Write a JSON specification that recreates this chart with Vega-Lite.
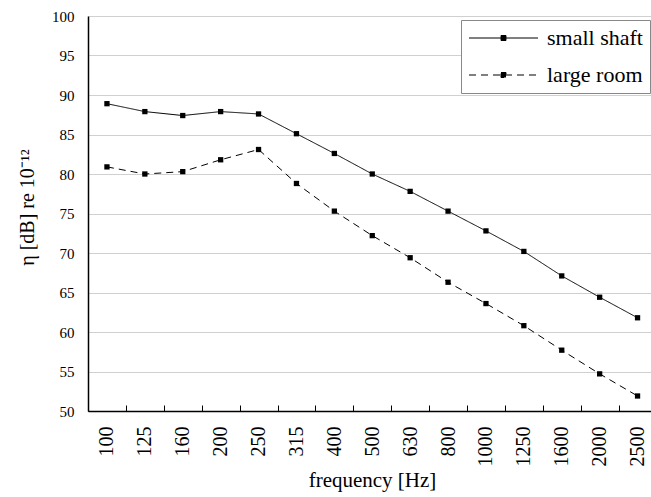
{
  "$schema": "https://vega.github.io/schema/vega-lite/v6.json",
  "autosize": "none",
  "width": 563,
  "height": 395,
  "padding": {"left": 88, "top": 16, "right": 0, "bottom": 86},
  "background": "white",
  "config": {
    "view": {"stroke": null},
    "font": "Liberation Serif",
    "style": {"guide-label": {"font": "Liberation Serif"}, "guide-title": {"font": "Liberation Serif"}},
    "axis": {"labelFont": "Liberation Serif", "titleFont": "Liberation Serif", "labelColor": "#000", "titleColor": "#000", "titleFontWeight": "normal"},
    "legend": {"labelFont": "Liberation Serif", "labelColor": "#000"}
  },
  "data": {
    "values": [
      {"f": "100", "series": "small shaft", "v": 88.9},
      {"f": "125", "series": "small shaft", "v": 87.9},
      {"f": "160", "series": "small shaft", "v": 87.4},
      {"f": "200", "series": "small shaft", "v": 87.9},
      {"f": "250", "series": "small shaft", "v": 87.6},
      {"f": "315", "series": "small shaft", "v": 85.1},
      {"f": "400", "series": "small shaft", "v": 82.6},
      {"f": "500", "series": "small shaft", "v": 80.0},
      {"f": "630", "series": "small shaft", "v": 77.8},
      {"f": "800", "series": "small shaft", "v": 75.3},
      {"f": "1000", "series": "small shaft", "v": 72.8},
      {"f": "1250", "series": "small shaft", "v": 70.2},
      {"f": "1600", "series": "small shaft", "v": 67.1},
      {"f": "2000", "series": "small shaft", "v": 64.4},
      {"f": "2500", "series": "small shaft", "v": 61.8},
      {"f": "100", "series": "large room", "v": 80.9},
      {"f": "125", "series": "large room", "v": 80.0},
      {"f": "160", "series": "large room", "v": 80.3},
      {"f": "200", "series": "large room", "v": 81.8},
      {"f": "250", "series": "large room", "v": 83.1},
      {"f": "315", "series": "large room", "v": 78.8},
      {"f": "400", "series": "large room", "v": 75.3},
      {"f": "500", "series": "large room", "v": 72.2},
      {"f": "630", "series": "large room", "v": 69.4},
      {"f": "800", "series": "large room", "v": 66.3},
      {"f": "1000", "series": "large room", "v": 63.6},
      {"f": "1250", "series": "large room", "v": 60.8},
      {"f": "1600", "series": "large room", "v": 57.7},
      {"f": "2000", "series": "large room", "v": 54.7},
      {"f": "2500", "series": "large room", "v": 51.9}
    ]
  },
  "encoding": {
    "x": {
      "field": "f",
      "type": "ordinal",
      "sort": ["100","125","160","200","250","315","400","500","630","800","1000","1250","1600","2000","2500"],
      "scale": {"type": "band", "range": [0, 568.5], "paddingInner": 0, "paddingOuter": 0},
      "axis": {
        "title": "frequency [Hz]",
        "titleFont": "Liberation Serif",
        "titleFontSize": 21,
        "titleFontWeight": "normal",
        "titleBaseline": "alphabetic",
        "titleX": 284,
        "titleY": 75,
        "labelFont": "Liberation Serif",
        "labelAngle": -90,
        "labelFontSize": 20,
        "labelPadding": 21,
        "tickBand": "extent",
        "tickSize": -6,
        "tickColor": "#000",
        "domainColor": "#000",
        "domainWidth": 1.5,
        "grid": false
      }
    },
    "y": {
      "field": "v",
      "type": "quantitative",
      "scale": {"domain": [50, 100], "nice": false, "zero": false},
      "axis": {
        "title": "η  [dB] re 10⁻¹²",
        "titleFont": "Liberation Serif",
        "titleFontSize": 20,
        "titleFontWeight": "normal",
        "titleAngle": -90,
        "titleBaseline": "alphabetic",
        "titleAlign": "center",
        "titleX": -55,
        "titleY": 191,
        "values": [50,55,60,65,70,75,80,85,90,95,100],
        "labelFont": "Liberation Serif",
        "labelFontSize": 15,
        "labelPadding": 14,
        "ticks": false,
        "domainColor": "#000",
        "domainWidth": 1.5,
        "gridColor": "#d0d0d0",
        "gridWidth": 1.2
      }
    }
  },
  "layer": [
    {
      "mark": {"type": "line", "color": "#000", "strokeWidth": 1},
      "encoding": {
        "strokeDash": {
          "field": "series",
          "type": "nominal",
          "scale": {"domain": ["small shaft", "large room"], "range": [[1, 0], [7, 5]]},
          "legend": {
            "title": null,
            "orient": "none",
            "legendX": 373,
            "legendY": 4,
            "padding": 7,
            "strokeColor": "#888",
            "fillColor": "white",
            "labelFont": "Liberation Serif",
            "labelFontSize": 22,
            "labelOffset": 57,
            "rowPadding": 15,
            "symbolType": "M-1,0H5.9M2.2,-0.25H2.7V0.25H2.2Z",
            "symbolSize": 400,
            "symbolStrokeColor": "#000",
            "symbolFillColor": "#000",
            "symbolStrokeWidth": 1
          }
        }
      }
    },
    {
      "mark": {"type": "point", "shape": "square", "filled": true, "color": "#000", "size": 28, "opacity": 1},
      "encoding": {"detail": {"field": "series"}}
    }
  ]
}
